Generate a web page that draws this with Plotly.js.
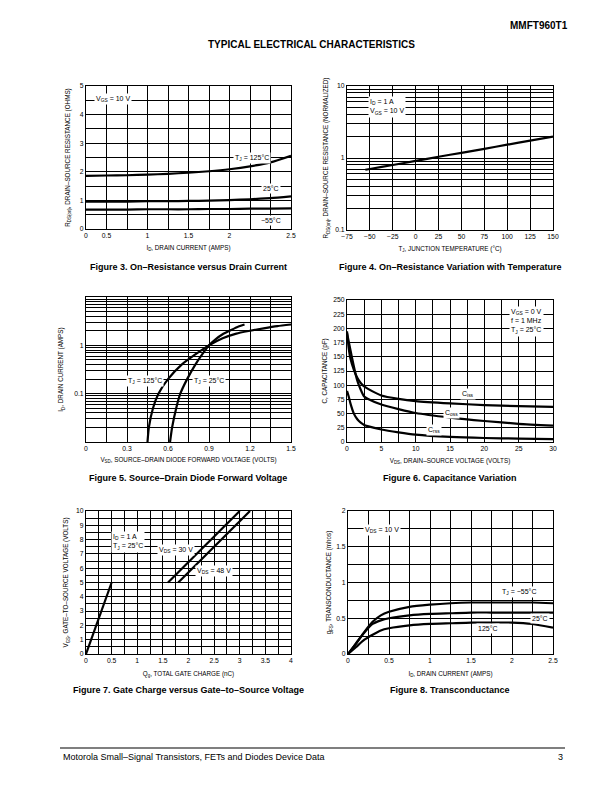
<!DOCTYPE html>
<html><head><meta charset="utf-8">
<script src="https://cdn.plot.ly/plotly-3.0.1.min.js"></script>
<style>html,body{margin:0;padding:0;background:#fff}#chart{width:612px;height:792px}</style>
</head><body><div id="chart"></div>
<script>
// ---------- Figure 3: On-resistance vs drain current ----------
const f3_id    = [0, 0.25, 0.5, 0.75, 1.0, 1.25, 1.5, 1.75, 2.0, 2.25, 2.5];
const f3_r125  = [1.86, 1.87, 1.88, 1.90, 1.93, 1.97, 2.02, 2.09, 2.19, 2.33, 2.56];
const f3_r25   = [0.96, 0.96, 0.96, 0.97, 0.97, 0.98, 0.99, 1.01, 1.04, 1.08, 1.14];
const f3_rm55  = [0.68, 0.68, 0.68, 0.69, 0.69, 0.69, 0.70, 0.70, 0.71, 0.71, 0.72];
const f3_xlabelPos = [0, 0.25, 0.75, 1.25, 1.75, 2.5];
const f3_xlabelTxt = ['0', '0.5', '1', '1.5', '2', '2.5'];
const f3_ylabelPos = [0, 1, 2, 3, 4, 5];
const f3_ylabelTxt = ['0', '1', '2', '3', '4', '5'];

// ---------- Figure 4: normalized on-resistance vs temperature ----------
const f4_t = [-55, -50, -25, 0, 25, 50, 75, 100, 125, 150];
const f4_r = [0.686, 0.704, 0.80, 0.91, 1.04, 1.18, 1.34, 1.53, 1.74, 1.98];
const f4_xlabelPos = [-75, -50, -25, 0, 25, 50, 75, 100, 125, 150];
const f4_xlabelTxt = ['−75', '−50', '−25', '0', '25', '50', '75', '100', '125', '150'];
const f4_ylabelPos = [0.1, 1, 10];
const f4_ylabelTxt = ['0.1', '1', '10'];

// ---------- Figure 5: source-drain diode forward voltage ----------
const f5_v125 = [0.45, 0.46, 0.49, 0.53, 0.60, 0.70, 0.80, 0.90, 1.00, 1.10, 1.20, 1.30, 1.40, 1.50];
const f5_i125 = [0.01, 0.02, 0.05, 0.10, 0.20, 0.40, 0.65, 1.00, 1.40, 1.75, 2.00, 2.25, 2.50, 2.70];
const f5_v25  = [0.615, 0.63, 0.66, 0.69, 0.74, 0.80, 0.85, 0.90, 0.95, 1.00, 1.05, 1.10, 1.16];
const f5_i25  = [0.01, 0.02, 0.05, 0.10, 0.20, 0.40, 0.65, 1.00, 1.35, 1.70, 2.00, 2.35, 2.70];
const f5_xlabelPos = [0, 0.3, 0.6, 0.9, 1.2, 1.5];
const f5_xlabelTxt = ['0', '0.3', '0.6', '0.9', '1.2', '1.5'];
const f5_ylabelPos = [0.1, 1];
const f5_ylabelTxt = ['0.1', '1'];

// ---------- Figure 6: capacitance variation ----------
const f6_vds_iss = [0, 0.25, 0.5, 1, 1.5, 2, 2.5, 3, 5, 7.5, 10, 15, 20, 25, 30];
const f6_ciss    = [195, 165, 147, 127, 113, 104, 98, 94, 82, 76, 72, 68, 65, 63, 62];
const f6_vds_oss = [0, 0.5, 1, 1.5, 2, 2.5, 3, 5, 7.5, 10, 15, 20, 25, 30];
const f6_coss    = [192, 162, 133, 108, 92, 80, 76, 66, 58, 51, 43, 37, 32, 29];
const f6_vds_rss = [0, 0.25, 0.5, 1, 1.5, 2, 2.5, 3, 5, 7.5, 10, 15, 20, 25, 30];
const f6_crss    = [90, 80, 68, 50, 40, 34, 30, 28, 22, 17, 13, 9, 7, 6, 5];
const f6_xlabelPos = [0, 5, 10, 15, 20, 25, 30];
const f6_xlabelTxt = ['0', '5', '10', '15', '20', '25', '30'];
const f6_ylabelPos = [0, 25, 50, 75, 100, 125, 150, 175, 200, 225, 250];
const f6_ylabelTxt = ['0', '25', '50', '75', '100', '125', '150', '175', '200', '225', '250'];

// ---------- Figure 7: gate charge ----------
const f7_q0  = [0, 0.5];
const f7_v0  = [0, 5];
const f7_q30 = [1.6, 3.0];
const f7_v30 = [5, 10];
const f7_q48 = [1.8, 3.2];
const f7_v48 = [5, 10];
const f7_xlabelPos = [0, 0.5, 1, 1.5, 2, 2.5, 3, 3.5, 4];
const f7_xlabelTxt = ['0', '0.5', '1', '1.5', '2', '2.5', '3', '3.5', '4'];
const f7_ylabelPos = [0, 1, 2, 3, 4, 5, 6, 7, 8, 9, 10];
const f7_ylabelTxt = ['0', '1', '2', '3', '4', '5', '6', '7', '8', '9', '10'];

// ---------- Figure 8: transconductance ----------
const f8_id   = [0, 0.1, 0.2, 0.3, 0.4, 0.5, 0.75, 1.0, 1.25, 1.5, 1.75, 2.0, 2.25, 2.5];
const f8_gm55 = [0, 0.15, 0.31, 0.45, 0.54, 0.59, 0.66, 0.69, 0.71, 0.72, 0.72, 0.72, 0.72, 0.71];
const f8_g25  = [0, 0.15, 0.30, 0.42, 0.47, 0.50, 0.54, 0.56, 0.57, 0.58, 0.58, 0.58, 0.58, 0.58];
const f8_g125 = [0, 0.10, 0.20, 0.27, 0.33, 0.36, 0.40, 0.42, 0.43, 0.44, 0.44, 0.44, 0.42, 0.37];
const f8_xlabelPos = [0, 0.5, 1, 1.5, 2, 2.5];
const f8_xlabelTxt = ['0', '0.5', '1', '1.5', '2', '2.5'];
const f8_ylabelPos = [0, 0.5, 1, 1.5, 2];
const f8_ylabelTxt = ['0', '0.5', '1', '1.5', '2'];

// ---------- helpers ----------
const W = 612, H = 792;
const FONT = 'Liberation Sans, Arial, Helvetica, sans-serif';
function dx(a, b) { return [a / W, b / W]; }
function dy(top, bottom) { return [1 - bottom / H, 1 - top / H]; }
// gridline positions: evenly spaced (linear) or 1..9 per decade (log)
function linGrid(lo, hi, step) {
  const v = []; const n = Math.round((hi - lo) / step);
  for (let i = 0; i <= n; i++) v.push(+(lo + i * step).toFixed(6));
  return v;
}
function logGrid(decLo, decHi) {
  const v = [];
  for (let d = decLo; d < decHi; d++) for (let k = 1; k <= 9; k++) v.push(+(k * Math.pow(10, d)).toPrecision(6));
  v.push(Math.pow(10, decHi));
  return v;
}
function ticks(grid, pos, txt) {
  return {
    tickmode: 'array', tickvals: grid,
    ticktext: grid.map(g => { const i = pos.findIndex(p => Math.abs(p - g) < 1e-6 * Math.max(1, Math.abs(g))); return i >= 0 ? txt[i] : ''; })
  };
}
function axis(o) {
  const base = {
    showline: true, mirror: true, linecolor: '#000', linewidth: 1,
    showgrid: true, gridcolor: '#000', gridwidth: 1, zeroline: false,
    ticks: '', fixedrange: true,
    tickfont: { family: FONT, size: 6.8, color: '#000' }
  };
  const r = Object.assign(base, o);
  if (o.title) r.title = Object.assign({ font: { family: FONT, size: 6.3, color: '#000' } }, o.title);
  return r;
}
function line(x, y, xa, ya) {
  return { x: x, y: y, xaxis: xa, yaxis: ya, mode: 'lines', type: 'scatter',
           line: { color: '#000', width: 2.2, shape: 'spline', smoothing: 0.6 }, hoverinfo: 'skip', showlegend: false };
}
function lab(text, x, y, xr, yr, extra) {
  return Object.assign({ text: text, x: x, y: y, xref: xr, yref: yr, showarrow: false,
    bgcolor: '#fff', borderpad: 1, font: { family: FONT, size: 7, color: '#000' } }, extra || {});
}
function paperText(text, xpx, ypx, size, bold, anchor) {
  return { text: text, x: xpx / W, y: 1 - ypx / H, xref: 'paper', yref: 'paper', showarrow: false,
    xanchor: anchor || 'center', yanchor: 'middle',
    font: { family: FONT, size: size, color: '#000', weight: bold ? 700 : 400 } };
}

const data = [
  line(f3_id, f3_r125, 'x', 'y'), line(f3_id, f3_r25, 'x', 'y'), line(f3_id, f3_rm55, 'x', 'y'),
  line(f4_t, f4_r, 'x2', 'y2'),
  line(f5_v125, f5_i125, 'x3', 'y3'), line(f5_v25, f5_i25, 'x3', 'y3'),
  line(f6_vds_iss, f6_ciss, 'x4', 'y4'), line(f6_vds_oss, f6_coss, 'x4', 'y4'), line(f6_vds_rss, f6_crss, 'x4', 'y4'),
  line(f7_q0, f7_v0, 'x5', 'y5'), line(f7_q30, f7_v30, 'x5', 'y5'), line(f7_q48, f7_v48, 'x5', 'y5'),
  line(f8_id, f8_gm55, 'x6', 'y6'), line(f8_id, f8_g25, 'x6', 'y6'), line(f8_id, f8_g125, 'x6', 'y6')
];

const layout = {
  width: W, height: H, margin: { l: 0, r: 0, t: 0, b: 0 },
  paper_bgcolor: '#fff', plot_bgcolor: '#fff', showlegend: false,
  hovermode: false, dragmode: false,
  font: { family: FONT, color: '#000' },
  // Figure 3
  xaxis: axis(Object.assign({ domain: dx(86, 291), anchor: 'y', range: [0, 2.5],
    title: { text: 'I<sub>D</sub>, DRAIN CURRENT (AMPS)', standoff: 7 } },
    ticks(linGrid(0, 2.5, 0.25), f3_xlabelPos, f3_xlabelTxt))),
  yaxis: axis(Object.assign({ domain: dy(86, 229), anchor: 'x', range: [0, 5],
    title: { text: 'R<sub>DS(on)</sub>, DRAIN–SOURCE RESISTANCE (OHMS)', standoff: 8 } },
    ticks(linGrid(0, 5, 0.5), f3_ylabelPos, f3_ylabelTxt))),
  // Figure 4
  xaxis2: axis(Object.assign({ domain: dx(347, 553), anchor: 'y2', range: [-75, 150],
    title: { text: 'T<sub>J</sub>, JUNCTION TEMPERATURE (°C)', standoff: 7 } },
    ticks(linGrid(-75, 150, 25), f4_xlabelPos, f4_xlabelTxt))),
  yaxis2: axis(Object.assign({ domain: dy(86, 230), anchor: 'x2', type: 'log', range: [-1, 1],
    title: { text: 'R<sub>DS(on)</sub>, DRAIN–SOURCE RESISTANCE (NORMALIZED)', standoff: 5 } },
    ticks(logGrid(-1, 1), f4_ylabelPos, f4_ylabelTxt))),
  // Figure 5
  xaxis3: axis(Object.assign({ domain: dx(86, 291), anchor: 'y3', range: [0, 1.5],
    title: { text: 'V<sub>SD</sub>, SOURCE–DRAIN DIODE FORWARD VOLTAGE (VOLTS)', standoff: 6 } },
    ticks(linGrid(0, 1.5, 0.15), f5_xlabelPos, f5_xlabelTxt))),
  yaxis3: axis(Object.assign({ domain: dy(297, 442), anchor: 'x3', type: 'log', range: [-2, 1],
    title: { text: 'I<sub>D</sub>, DRAIN CURRENT (AMPS)', standoff: 9 } },
    ticks(logGrid(-2, 1), f5_ylabelPos, f5_ylabelTxt))),
  // Figure 6
  xaxis4: axis(Object.assign({ domain: dx(347, 553), anchor: 'y4', range: [0, 30],
    title: { text: 'V<sub>DS</sub>, DRAIN–SOURCE VOLTAGE (VOLTS)', standoff: 7 } },
    ticks(linGrid(0, 30, 2.5), f6_xlabelPos, f6_xlabelTxt))),
  yaxis4: axis(Object.assign({ domain: dy(300, 442), anchor: 'x4', range: [0, 250],
    title: { text: 'C, CAPACITANCE (pF)', standoff: 5 } },
    ticks(linGrid(0, 250, 25), f6_ylabelPos, f6_ylabelTxt))),
  // Figure 7
  xaxis5: axis(Object.assign({ domain: dx(86, 291), anchor: 'y5', range: [0, 4],
    title: { text: 'Q<sub>g</sub>, TOTAL GATE CHARGE (nC)', standoff: 8 } },
    ticks(linGrid(0, 4, 0.25), f7_xlabelPos, f7_xlabelTxt))),
  yaxis5: axis(Object.assign({ domain: dy(511, 654), anchor: 'x5', range: [0, 10],
    title: { text: 'V<sub>GS</sub>, GATE–TO–SOURCE VOLTAGE (VOLTS)', standoff: 6 } },
    ticks(linGrid(0, 10, 0.5), f7_ylabelPos, f7_ylabelTxt))),
  // Figure 8
  xaxis6: axis(Object.assign({ domain: dx(348, 553), anchor: 'y6', range: [0, 2.5],
    title: { text: 'I<sub>D</sub>, DRAIN CURRENT (AMPS)', standoff: 8 } },
    ticks(linGrid(0, 2.5, 0.25), f8_xlabelPos, f8_xlabelTxt))),
  yaxis6: axis(Object.assign({ domain: dy(511, 654), anchor: 'x6', range: [0, 2],
    title: { text: 'g<sub>FS</sub>, TRANSCONDUCTANCE (mhos)', standoff: 3 } },
    ticks(linGrid(0, 2, 0.25), f8_ylabelPos, f8_ylabelTxt))),
  annotations: [
    // in-plot labels
    lab('V<sub>GS</sub> = 10 V', 0.33, 4.55, 'x', 'y'),
    lab('T<sub>J</sub> = 125°C', 2.02, 2.5, 'x', 'y'),
    lab('25°C', 2.25, 1.4, 'x', 'y'),
    lab('−55°C', 2.26, 0.28, 'x', 'y'),
    lab('I<sub>D</sub> = 1 A<br>V<sub>GS</sub> = 10 V', -31, 0.71, 'x2', 'y2', { align: 'left' }),
    lab('T<sub>J</sub> = 125°C', 0.43, -0.733, 'x3', 'y3'),
    lab('T<sub>J</sub> = 25°C', 0.9, -0.733, 'x3', 'y3'),
    lab('V<sub>GS</sub> = 0 V<br>f = 1 MHz<br>T<sub>J</sub> = 25°C', 26.1, 212, 'x4', 'y4', { align: 'left' }),
    lab('C<sub>iss</sub>', 17.6, 84.5, 'x4', 'y4'),
    lab('C<sub>oss</sub>', 15.2, 51.6, 'x4', 'y4'),
    lab('C<sub>rss</sub>', 12.7, 21, 'x4', 'y4'),
    lab('I<sub>D</sub> = 1 A<br>T<sub>J</sub> = 25°C', 0.82, 7.84, 'x5', 'y5', { align: 'left' }),
    lab('V<sub>DS</sub> = 30 V', 1.75, 7.25, 'x5', 'y5'),
    lab('V<sub>DS</sub> = 48 V', 2.5, 5.77, 'x5', 'y5'),
    lab('V<sub>DS</sub> = 10 V', 0.41, 1.73, 'x6', 'y6'),
    lab('T<sub>J</sub> = −55°C', 2.08, 0.87, 'x6', 'y6'),
    lab('25°C', 2.34, 0.50, 'x6', 'y6'),
    lab('125°C', 1.71, 0.36, 'x6', 'y6'),
    // captions
    paperText('Figure 3. On–Resistance versus Drain Current', 188, 267, 9, true),
    paperText('Figure 4. On–Resistance Variation with Temperature', 450, 267, 9, true),
    paperText('Figure 5. Source–Drain Diode Forward Voltage', 188, 478, 9, true),
    paperText('Figure 6. Capacitance Variation', 450, 478, 9, true),
    paperText('Figure 7. Gate Charge versus Gate–to–Source Voltage', 188, 690, 9, true),
    paperText('Figure 8. Transconductance', 450, 690, 9, true),
    // header / footer
    paperText('MMFT960T1', 570, 25, 10, true, 'right'),
    paperText('TYPICAL ELECTRICAL CHARACTERISTICS', 311, 44, 10, true),
    paperText('Motorola Small–Signal Transistors, FETs and Diodes Device Data', 61, 757, 9, false, 'left'),
    paperText('3', 565, 757, 9, false, 'right')
  ],
  shapes: [
    // heavier 0.1 A gridline seen in Figure 5
    { type: 'line', xref: 'x3 domain', yref: 'y3', x0: 0, x1: 1, y0: -1, y1: -1,
      line: { color: '#000', width: 2.4 }, layer: 'below' },
    // footer rule
    { type: 'line', xref: 'paper', yref: 'paper', x0: 60 / W, x1: 565 / W, y0: 1 - 748 / H, y1: 1 - 748 / H,
      line: { color: '#000', width: 1.2 } }
  ]
};

Plotly.newPlot('chart', data, layout, { displayModeBar: false, responsive: false });
</script>
</body></html>
